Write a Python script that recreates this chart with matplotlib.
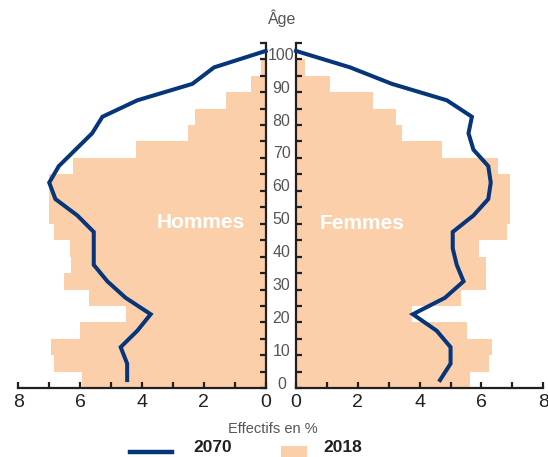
import matplotlib
matplotlib.use("Agg")
import matplotlib.pyplot as plt
from matplotlib.lines import Line2D
from matplotlib.patches import Rectangle
import matplotlib.transforms as mtransforms

# ---- data ----
age_groups = list(range(0, 100, 5))          # 0-4 ... 95-99
hommes_2018 = [5.93, 6.83, 6.93, 6.02, 4.53, 5.72, 6.53, 6.28, 6.34, 6.83,
               7.00, 7.00, 7.00, 6.22, 4.20, 2.50, 2.30, 1.29, 0.49, 0.15]
femmes_2018 = [5.63, 6.24, 6.33, 5.52, 3.75, 5.34, 6.14, 6.14, 5.93, 6.84,
               6.93, 6.93, 6.93, 6.53, 4.73, 3.42, 3.24, 2.50, 1.10, 0.29]
line_ages = [2.5 + 5 * i for i in range(21)]  # group mid-points
hommes_2070 = [4.48, 4.48, 4.69, 4.15, 3.72, 4.53, 5.12, 5.56, 5.56, 5.56,
               6.09, 6.80, 7.00, 6.69, 6.15, 5.61, 5.28, 4.15, 2.37, 1.67, 0.0]
femmes_2070 = [4.66, 5.00, 5.00, 4.55, 3.78, 4.82, 5.42, 5.20, 5.07, 5.07,
               5.74, 6.22, 6.30, 6.22, 5.74, 5.58, 5.69, 4.88, 3.10, 1.75, 0.0]
x_ticks = [0, 2, 4, 6, 8]
age_labels = list(range(0, 101, 10))
series_labels = ["2070", "2018"]
panel_labels = ["Hommes", "Femmes"]

# ---- style ----
BAR = "#fccfab"
LINE = "#06357a"
SPINE = "#231f20"
GREY = "#555555"
FONT = ["Liberation Sans", "DejaVu Sans"]
plt.rcParams["font.family"] = FONT

W, H = 548, 457
fig = plt.figure(figsize=(W / 100, H / 100), dpi=100)

y0 = (H - 388.3) / H
y1 = (H - 42.7) / H
axL = fig.add_axes([18.3 / W, y0, 247.4 / W, y1 - y0])
axR = fig.add_axes([296.0 / W, y0, 247.3 / W, y1 - y0])

for ax, bars, line, side in ((axL, hommes_2018, hommes_2070, "L"),
                             (axR, femmes_2018, femmes_2070, "R")):
    ax.barh(age_groups, bars, height=5, align="edge", color=BAR, linewidth=0, zorder=1)
    ax.plot(line, line_ages, color=LINE, lw=2.9, solid_joinstyle="miter",
            zorder=3, clip_on=False)
    ax.set_xlim(0, 8)
    ax.set_ylim(0, 105)
    for s in ax.spines.values():
        s.set_visible(False)
    ax.spines["bottom"].set_visible(True)
    vs = "right" if side == "L" else "left"
    ax.spines[vs].set_visible(True)
    for s in ("bottom", vs):
        ax.spines[s].set_color(SPINE)
        ax.spines[s].set_linewidth(1.6)
    ax.set_xticks(range(0, 9))
    ax.set_xticklabels([str(v) if v in x_ticks else "" for v in range(0, 9)])
    ax.set_yticks(range(0, 106, 5))
    ax.set_yticklabels([])
    ax.tick_params(axis="both", direction="in", length=4.5, width=1.6, color=SPINE)
    ax.tick_params(axis="x", labelsize=14, labelcolor=SPINE, pad=4)
    if side == "L":
        ax.yaxis.tick_right()
        ax.invert_xaxis()
    else:
        ax.yaxis.tick_left()
    ax.set_facecolor("none")

# age labels in the central gap
tr = mtransforms.blended_transform_factory(fig.transFigure, axR.transData)
for a in age_labels:
    fig.text(281.5 / W, a + 1.2, str(a), transform=tr, ha="center", va="center",
             fontsize=11.5, color=GREY)
fig.text(282 / W, 1 - 18 / H, "Âge", ha="center", va="center", fontsize=11.5, color=GREY)

# panel labels
axL.text((265.7 - 201) / 30.9, 50.5, panel_labels[0], ha="center", va="center",
         fontsize=15, fontweight="bold", color="white", zorder=4)
axR.text((362 - 296) / 30.9, 50.0, panel_labels[1], ha="center", va="center",
         fontsize=15, fontweight="bold", color="white", zorder=4)

# x label
fig.text(273 / W, 1 - 429 / H, "Effectifs en %", ha="center", va="center",
         fontsize=10.5, color=GREY)

# legend
fig.add_artist(Line2D([130 / W, 172 / W], [1 - 452 / H, 1 - 452 / H],
                      transform=fig.transFigure, color=LINE, lw=3.2))
fig.text(213 / W, 1 - 447 / H, series_labels[0], ha="center", va="center",
         fontsize=12.5, fontweight="bold", color=SPINE)
fig.add_artist(Rectangle((281 / W, 1 - 457 / H), 26 / W, 11 / H,
                         transform=fig.transFigure, color=BAR, linewidth=0))
fig.text(343 / W, 1 - 447 / H, series_labels[1], ha="center", va="center",
         fontsize=12.5, fontweight="bold", color=SPINE)

fig.savefig("out.png", dpi=100)
